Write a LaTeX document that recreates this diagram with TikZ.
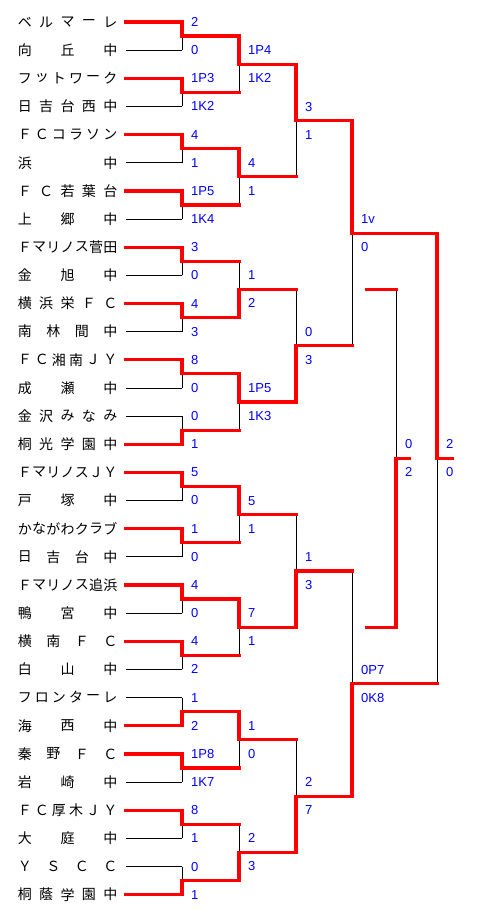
\documentclass[tikz,border=0pt]{standalone}
\usepackage{fontspec}
\newfontfamily\jpfont{Noto Sans CJK JP}
\newfontfamily\scorefont{Liberation Sans}
\pgfdeclarelayer{bg}
\pgfdeclarelayer{blk}
\pgfsetlayers{bg,blk,main}
\definecolor{bred}{RGB}{255,0,0}
\definecolor{bblue}{RGB}{0,0,255}
\tikzset{
  winner/.style={draw=bred,line width=3.2pt,line cap=rect,line join=miter},
  loser/.style={draw=black,line width=0.9pt},
  score/.style={anchor=west,inner sep=0pt,text=bblue,font=\scorefont\fontsize{13}{13}\selectfont},
  namechar/.style={inner sep=0pt,font=\jpfont\fontsize{14}{14}\selectfont}
}
\newcommand\rowy[1]{(22+28.15*((#1)-1))}
% team name spread between x=18 and x=117
\newcommand\tname[3]{%
  \foreach \c [count=\k from 0] in {#3} {
    \node[namechar] (n#1c\k) at ({24.75+\k*85.5/(#2-1)},{\rowy{#1}}) {\c};
  }
  \coordinate (t#1) at (126,{\rowy{#1}});
  \coordinate (j#1) at (182,{\rowy{#1}});
}
% #1 name, #2 xcol, #3 xnext, #4 upper pos, #5 lower pos, #6 winner u/l, #7 upper label, #8 lower label
\newcommand\bmatch[8]{%
  \coordinate (#1u) at (#2,{\rowy{#4}});
  \coordinate (#1l) at (#2,{\rowy{#5}});
  \coordinate (#1m) at (#2,{\rowy{((#4)+(#5))/2}});
  \coordinate (#1o) at (#3,{\rowy{((#4)+(#5))/2}});
  \if#6u
    \begin{pgfonlayer}{blk}\draw[loser] (#1l) -- (#1m);\end{pgfonlayer}
    \draw[winner] (#1u) -- (#1m) -- (#1o);
  \else
    \begin{pgfonlayer}{blk}\draw[loser] (#1u) -- (#1m);\end{pgfonlayer}
    \draw[winner] (#1l) -- (#1m) -- (#1o);
  \fi
  \node[score] (#1a) at ({#2+9},{\rowy{((#4)+(#5))/2}-14}) {#7};
  \node[score] (#1b) at ({#2+9},{\rowy{((#4)+(#5))/2}+14}) {#8};
}
\begin{document}
\begin{tikzpicture}[x=1pt,y=-1pt]
\begin{pgfonlayer}{bg}
\path[use as bounding box,fill=white] (0,0) rectangle (483,919);
\end{pgfonlayer}
% team names
\tname{1}{5}{ベ,ル,マ,ー,レ}
\tname{2}{3}{向,丘,中}
\tname{3}{6}{フ,ッ,ト,ワ,ー,ク}
\tname{4}{5}{日,吉,台,西,中}
\tname{5}{6}{Ｆ,Ｃ,コ,ラ,ソ,ン}
\tname{6}{2}{浜,中}
\tname{7}{5}{Ｆ,Ｃ,若,葉,台}
\tname{8}{3}{上,郷,中}
\tname{9}{7}{Ｆ,マ,リ,ノ,ス,菅,田}
\tname{10}{3}{金,旭,中}
\tname{11}{5}{横,浜,栄,Ｆ,Ｃ}
\tname{12}{4}{南,林,間,中}
\tname{13}{6}{Ｆ,Ｃ,湘,南,Ｊ,Ｙ}
\tname{14}{3}{成,瀬,中}
\tname{15}{5}{金,沢,み,な,み}
\tname{16}{5}{桐,光,学,園,中}
\tname{17}{7}{Ｆ,マ,リ,ノ,ス,Ｊ,Ｙ}
\tname{18}{3}{戸,塚,中}
\tname{19}{7}{か,な,が,わ,ク,ラ,ブ}
\tname{20}{4}{日,吉,台,中}
\tname{21}{7}{Ｆ,マ,リ,ノ,ス,追,浜}
\tname{22}{3}{鴨,宮,中}
\tname{23}{4}{横,南,Ｆ,Ｃ}
\tname{24}{3}{白,山,中}
\tname{25}{6}{フ,ロ,ン,タ,ー,レ}
\tname{26}{3}{海,西,中}
\tname{27}{4}{秦,野,Ｆ,Ｃ}
\tname{28}{3}{岩,崎,中}
\tname{29}{6}{Ｆ,Ｃ,厚,木,Ｊ,Ｙ}
\tname{30}{3}{大,庭,中}
\tname{31}{4}{Ｙ,Ｓ,Ｃ,Ｃ}
\tname{32}{5}{桐,蔭,学,園,中}
% team lines
\begin{pgfonlayer}{blk}
\foreach \i in {2,4,6,8,10,12,14,15,18,20,22,24,25,28,30,31}
  \draw[loser] (t\i) -- (j\i);
\end{pgfonlayer}
\foreach \i in {1,3,5,7,9,11,13,16,17,19,21,23,26,27,29,32}
  \draw[winner] (t\i) -- (j\i);
% round 1
\bmatch{a1}{182}{239}{1}{2}{u}{2}{0}
\bmatch{a2}{182}{239}{3}{4}{u}{1P3}{1K2}
\bmatch{a3}{182}{239}{5}{6}{u}{4}{1}
\bmatch{a4}{182}{239}{7}{8}{u}{1P5}{1K4}
\bmatch{a5}{182}{239}{9}{10}{u}{3}{0}
\bmatch{a6}{182}{239}{11}{12}{u}{4}{3}
\bmatch{a7}{182}{239}{13}{14}{u}{8}{0}
\bmatch{a8}{182}{239}{15}{16}{l}{0}{1}
\bmatch{a9}{182}{239}{17}{18}{u}{5}{0}
\bmatch{a10}{182}{239}{19}{20}{u}{1}{0}
\bmatch{a11}{182}{239}{21}{22}{u}{4}{0}
\bmatch{a12}{182}{239}{23}{24}{u}{4}{2}
\bmatch{a13}{182}{239}{25}{26}{l}{1}{2}
\bmatch{a14}{182}{239}{27}{28}{u}{1P8}{1K7}
\bmatch{a15}{182}{239}{29}{30}{u}{8}{1}
\bmatch{a16}{182}{239}{31}{32}{l}{0}{1}
% round 2
\bmatch{b1}{239}{296}{1.5}{3.5}{u}{1P4}{1K2}
\bmatch{b2}{239}{296}{5.5}{7.5}{u}{4}{1}
\bmatch{b3}{239}{296}{9.5}{11.5}{l}{1}{2}
\bmatch{b4}{239}{296}{13.5}{15.5}{u}{1P5}{1K3}
\bmatch{b5}{239}{296}{17.5}{19.5}{u}{5}{1}
\bmatch{b6}{239}{296}{21.5}{23.5}{u}{7}{1}
\bmatch{b7}{239}{296}{25.5}{27.5}{u}{1}{0}
\bmatch{b8}{239}{296}{29.5}{31.5}{l}{2}{3}
% round 3
\bmatch{c1}{296}{352}{2.5}{6.5}{u}{3}{1}
\bmatch{c2}{296}{352}{10.5}{14.5}{l}{0}{3}
\bmatch{c3}{296}{352}{18.5}{22.5}{l}{1}{3}
\bmatch{c4}{296}{352}{26.5}{30.5}{l}{2}{7}
% semi-finals
\bmatch{d1}{352}{437}{4.5}{12.5}{u}{1v}{0}
\bmatch{d2}{352}{437}{20.5}{28.5}{l}{0P7}{0K8}
% side match
\coordinate (sx1) at (367,{\rowy{10.5}});
\coordinate (sx2) at (367,{\rowy{22.5}});
\bmatch{s}{396}{409}{10.5}{22.5}{l}{0}{2}
\draw[winner] (sx1) -- (su);
\draw[winner] (sx2) -- (sl);
% final
\bmatch{f}{437}{452}{8.5}{24.5}{u}{2}{0}
\end{tikzpicture}
\end{document}
